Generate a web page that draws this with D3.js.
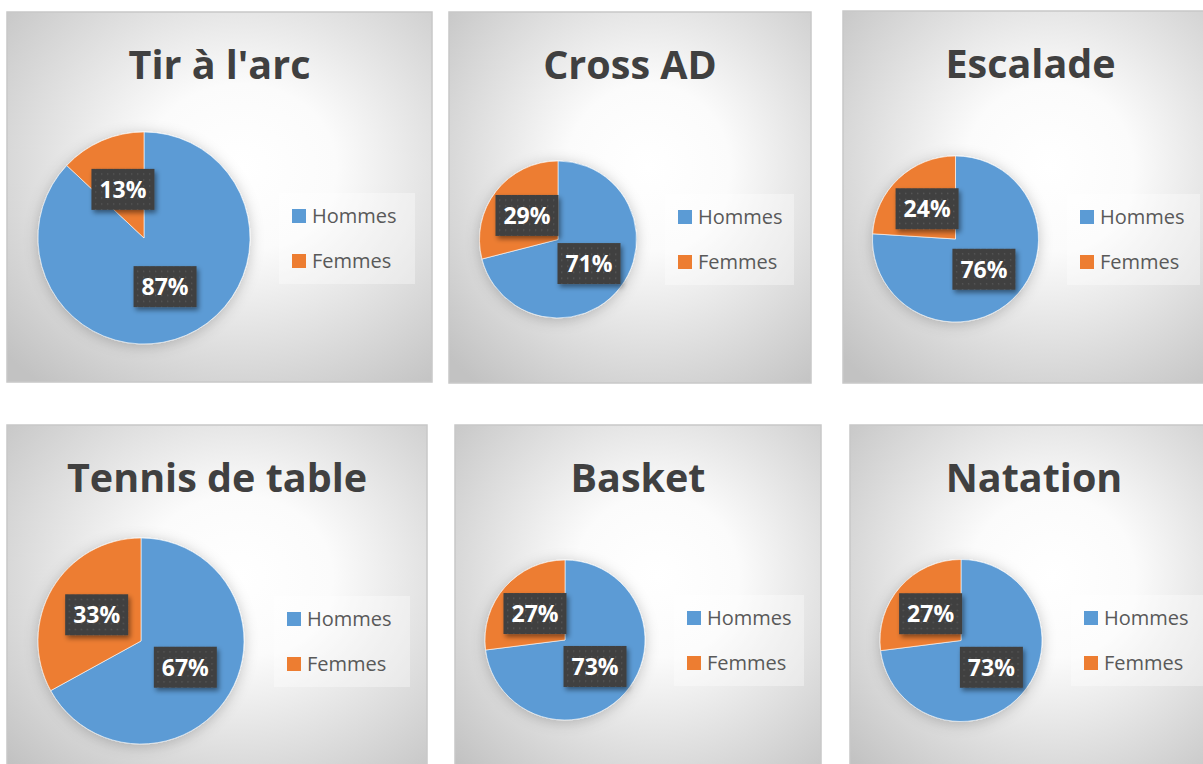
<!DOCTYPE html>
<html><head><meta charset="utf-8">
<script src="https://cdn.jsdelivr.net/npm/d3@7"></script>
<style>html,body{margin:0;padding:0;background:#fff;overflow:hidden}</style>
</head><body>
<svg id="c" width="1203" height="764"></svg>
<script>
// ---- data ----
const sports = ["Tir à l'arc", "Cross AD", "Escalade", "Tennis de table", "Basket", "Natation"];
const seriesNames = ["Hommes", "Femmes"];
const hommes = [87, 71, 76, 67, 73, 73];
const femmes = [13, 29, 24, 33, 27, 27];
const colors = ["#5B9BD5", "#ED7D31"];

// ---- layout (positions only) ----
const panels = [
  {x: 7,   y: 12,  w: 425, h: 370, cx: 137,   cy: 226,   r: 106,  lx: 272, ly: 181, lw: 136},
  {x: 449, y: 12,  w: 362, h: 371, cx: 109,   cy: 227.5, r: 78.5, lx: 216, ly: 182, lw: 129},
  {x: 843, y: 11,  w: 375, h: 372, cx: 112.5, cy: 228,   r: 83,   lx: 224, ly: 183, lw: 133},
  {x: 7,   y: 425, w: 420, h: 360, cx: 134,   cy: 216,   r: 103,  lx: 267, ly: 171, lw: 136},
  {x: 455, y: 425, w: 366, h: 360, cx: 110,   cy: 215,   r: 80,   lx: 219, ly: 170, lw: 130},
  {x: 850, y: 425, w: 368, h: 360, cx: 111,   cy: 215.5, r: 81,   lx: 221, ly: 170, lw: 132}
];

const svg = d3.select("#c");
const defs = svg.append("defs");

const rg = defs.append("radialGradient").attr("id", "bg")
  .attr("cx", "55%").attr("cy", "42%").attr("r", "75%");
rg.append("stop").attr("offset", "0%").attr("stop-color", "#ffffff");
rg.append("stop").attr("offset", "30%").attr("stop-color", "#fbfbfb");
rg.append("stop").attr("offset", "100%").attr("stop-color", "#c2c2c2");

const pat = defs.append("pattern").attr("id", "dots").attr("patternUnits", "userSpaceOnUse")
  .attr("width", 6).attr("height", 6);
pat.append("rect").attr("width", 6).attr("height", 6).attr("fill", "#404040");
pat.append("rect").attr("x", 2).attr("y", 2).attr("width", 1.3).attr("height", 1.3).attr("fill", "#5a5a5a");

const sh = defs.append("filter").attr("id", "lblShadow").attr("x", "-30%").attr("y", "-30%").attr("width", "160%").attr("height", "160%");
sh.append("feDropShadow").attr("dx", 2).attr("dy", 3).attr("stdDeviation", 2.5).attr("flood-color", "#000").attr("flood-opacity", 0.45);

const ps = defs.append("filter").attr("id", "pieShadow").attr("x", "-30%").attr("y", "-30%").attr("width", "160%").attr("height", "160%");
ps.append("feDropShadow").attr("dx", 0).attr("dy", 2).attr("stdDeviation", 7).attr("flood-color", "#000").attr("flood-opacity", 0.22);

const pie = d3.pie().sort(null).value(d => d.value);

panels.forEach((p, i) => {
  const g = svg.append("g").attr("transform", `translate(${p.x},${p.y})`);
  g.append("rect").attr("width", p.w).attr("height", p.h)
    .attr("fill", "url(#bg)").attr("stroke", "#c8c8c8").attr("stroke-width", 1.5);

  g.append("text").attr("x", p.w / 2).attr("y", 67).attr("text-anchor", "middle")
    .attr("font-family", "'Open Sans', sans-serif").attr("font-weight", 700)
    .attr("font-size", 39.5).attr("fill", "#404040").text(sports[i]);

  const data = [{name: seriesNames[0], value: hommes[i]}, {name: seriesNames[1], value: femmes[i]}];
  const arcs = pie(data);
  const arc = d3.arc().innerRadius(0).outerRadius(p.r);
  const pg = g.append("g").attr("transform", `translate(${p.cx},${p.cy})`);
  const sg = pg.append("g").attr("filter", "url(#pieShadow)");
  sg.selectAll("path").data(arcs).enter().append("path")
    .attr("d", arc).attr("fill", (d, k) => colors[k])
    .attr("stroke", "#ffffff").attr("stroke-width", 0.6);

  const lbl = pg.selectAll("g.lbl").data(arcs).enter().append("g").attr("class", "lbl")
    .attr("transform", d => { const c = arc.centroid(d); return `translate(${c[0]},${c[1]})`; });
  lbl.append("rect").attr("x", -31.5).attr("y", -20.5).attr("width", 63).attr("height", 41)
    .attr("fill", "url(#dots)").attr("filter", "url(#lblShadow)");
  lbl.append("text").attr("text-anchor", "middle").attr("y", 8.5)
    .attr("font-family", "'Open Sans', sans-serif").attr("font-weight", 700)
    .attr("font-size", 23).attr("fill", "#ffffff").text(d => d.data.value + "%");

  const lg = g.append("g").attr("transform", `translate(${p.lx},${p.ly})`);
  lg.append("rect").attr("width", p.lw).attr("height", 91).attr("fill", "#ffffff").attr("fill-opacity", 0.35);
  seriesNames.forEach((s, k) => {
    lg.append("rect").attr("x", 13).attr("y", 16 + k * 45).attr("width", 14).attr("height", 14).attr("fill", colors[k]);
    lg.append("text").attr("x", 33).attr("y", 30 + k * 45)
      .attr("font-family", "'Open Sans', sans-serif").attr("font-size", 20)
      .attr("fill", "#595959").text(s);
  });
});
</script>
</body></html>
